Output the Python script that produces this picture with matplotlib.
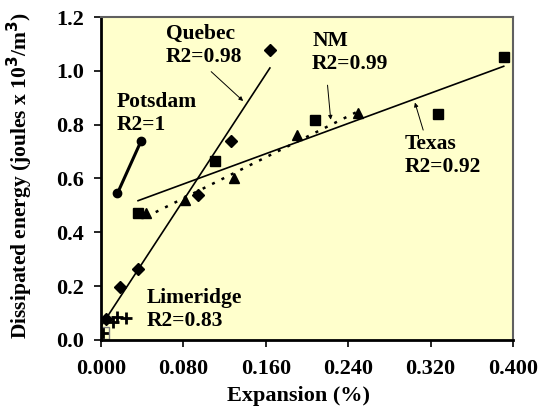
import numpy as np
import matplotlib
matplotlib.use("Agg")
import matplotlib.pyplot as plt

plt.rcParams['font.family'] = ['Liberation Serif', 'DejaVu Serif']
plt.rcParams['font.weight'] = 'bold'

# data
quebec_x = [0.005, 0.018, 0.036, 0.094, 0.126, 0.164]
quebec_y = [0.078, 0.198, 0.264, 0.539, 0.740, 1.078]
texas_x = [0.036, 0.111, 0.208, 0.327, 0.391]
texas_y = [0.470, 0.665, 0.818, 0.840, 1.051]
nm_x = [0.044, 0.082, 0.129, 0.190, 0.250]
nm_y = [0.470, 0.520, 0.600, 0.762, 0.842]
potsdam_x = [0.016, 0.039]
potsdam_y = [0.545, 0.740]
lime_x = [0.002, 0.012, 0.016, 0.024]
lime_y = [0.025, 0.068, 0.085, 0.083]

xticks = [0.0, 0.08, 0.16, 0.24, 0.32, 0.40]
yticks = [0.0, 0.2, 0.4, 0.6, 0.8, 1.0, 1.2]

fig = plt.figure(figsize=(5.38, 4.13), dpi=100)
ax = fig.add_axes([0.1877, 0.1768, 0.7658, 0.782])
ax.set_facecolor('#FFFFCC')


def trend(x, y, x0, x1, **kw):
    k, b = np.polyfit(x, y, 1)
    xs = np.array([x0, x1])
    ax.plot(xs, k * xs + b, **kw)


trend(quebec_x, quebec_y, 0.0, 0.164, color='black', lw=1.2)
trend(texas_x, texas_y, 0.036, 0.391, color='black', lw=1.2)
trend(nm_x, nm_y, 0.044, 0.250, color='black', lw=1.8, ls=(0, (1.2, 3)))
ax.plot(potsdam_x, potsdam_y, color='black', lw=2.2)

ax.plot(quebec_x, quebec_y, 'D', color='black', ms=6.5, ls='none')
ax.plot(texas_x, texas_y, 's', color='black', ms=6.5, ls='none')
ax.plot(nm_x, nm_y, '^', color='black', ms=7.5, ls='none')
ax.plot(potsdam_x, potsdam_y, 'o', color='black', ms=6, ls='none')
ax.plot(lime_x, lime_y, '+', color='black', ms=8, mew=2, ls='none')
ax.plot(lime_x[0], lime_y[0], 's', mfc='none', mec='#808080', ms=9, mew=1)

fs = 15.5
ax.text(0.063, 1.095, 'Quebec\nR2=0.98', fontsize=fs, fontweight='bold', va='center', ha='left')
ax.text(0.0155, 0.842, 'Potsdam\nR2=1', fontsize=fs, fontweight='bold', va='center', ha='left')
ax.text(0.205, 1.069, 'NM\nR2=0.99', fontsize=fs, fontweight='bold', va='center', ha='left')
ax.text(0.295, 0.684, 'Texas\nR2=0.92', fontsize=fs, fontweight='bold', va='center', ha='left')
ax.text(0.0444, 0.115, 'Limeridge\nR2=0.83', fontsize=fs, fontweight='bold', va='center', ha='left')

arrow = dict(arrowstyle='-|>', color='black', lw=0.7, mutation_scale=6)
ax.annotate('', xy=(0.140, 0.881), xytext=(0.105, 1.004), arrowprops=arrow)
ax.annotate('', xy=(0.2233, 0.808), xytext=(0.2197, 0.957), arrowprops=arrow)
ax.annotate('', xy=(0.304, 0.892), xytext=(0.3136, 0.770), arrowprops=arrow)

ax.set_xlim(0, 0.4)
ax.set_ylim(0, 1.2)
ax.set_xticks(xticks)
ax.set_yticks(yticks)
ax.set_xticklabels(['%.3f' % v for v in xticks], fontsize=16, fontweight='bold')
ax.set_yticklabels(['%.1f' % v for v in yticks], fontsize=16, fontweight='bold')
ax.tick_params(direction='out', length=5, width=1.2)
ax.tick_params(axis='x', pad=9)
ax.tick_params(axis='y', pad=7)

for s in ['left', 'bottom']:
    ax.spines[s].set_linewidth(2)
    ax.spines[s].set_color('black')
for s in ['top', 'right']:
    ax.spines[s].set_linewidth(1.5)
    ax.spines[s].set_color('#606060')

ax.set_xlabel('Expansion (%)', fontsize=16, fontweight='bold')
ax.set_ylabel('Dissipated energy (joules x 10$^3$/m$^3$)', fontsize=15.5, fontweight='bold')
ax.xaxis.set_label_coords(0.479, -0.142)
ax.yaxis.set_label_coords(-0.16, 0.51)

fig.savefig('out.png', dpi=100)
